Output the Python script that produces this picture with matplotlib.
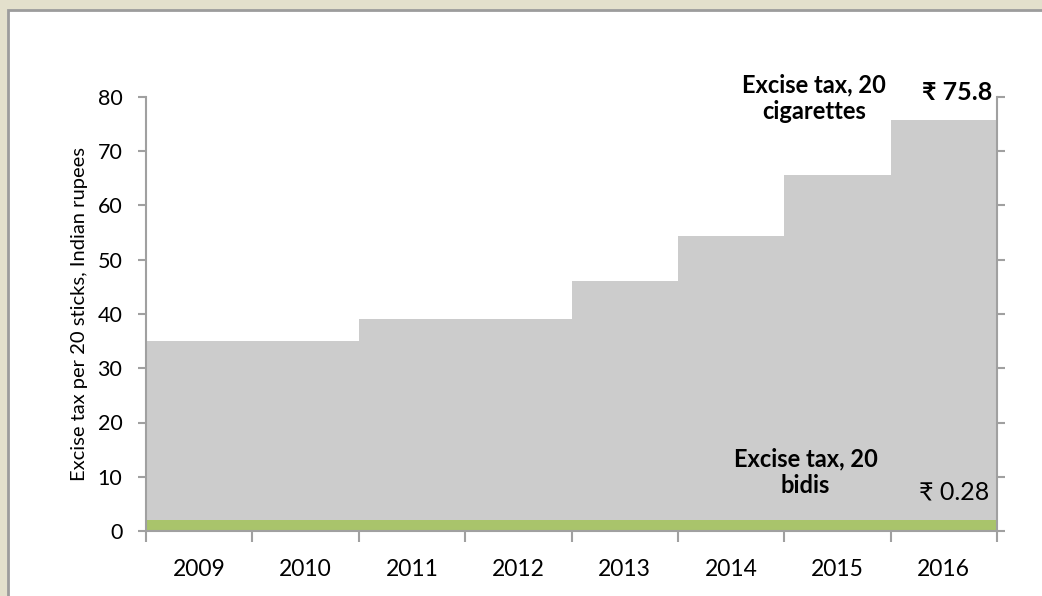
import matplotlib
matplotlib.use("Agg")
import matplotlib.pyplot as plt
from matplotlib.patches import Rectangle
import numpy as np

plt.rcParams['font.family'] = ['Lato', 'DejaVu Sans']

# data
years = ['2009', '2010', '2011', '2012', '2013', '2014', '2015', '2016']
cigarette_tax = [35.0, 35.0, 39.0, 39.0, 46.0, 54.4, 65.7, 75.8]
bidi_tax = [2.1, 2.1, 2.1, 2.1, 2.1, 2.1, 2.1, 2.1]
yticks = [0, 10, 20, 30, 40, 50, 60, 70, 80]

grey = '#CCCCCC'
green = '#A9C46B'
axis_col = '#A0A0A0'

fig = plt.figure(figsize=(10.42, 5.96), dpi=100)
fig.patch.set_facecolor('#E3E0CC')

# white inner panel, behind the axes
panel = Rectangle((8 / 1042, -0.1), 1.2, 1 - 10 / 596 + 0.1, transform=fig.transFigure,
                  facecolor='white', edgecolor='#9C9C9C', linewidth=2, zorder=-5)
fig.patches.append(panel)

ax = fig.add_axes([146 / 1042, 1 - 531 / 596, (997 - 146) / 1042, (531 - 97) / 596])
ax.set_facecolor('none')
ax.set_zorder(2)

edges = np.arange(len(years) + 1)
ax.fill_between(edges, cigarette_tax + [cigarette_tax[-1]], step='post', color=grey, linewidth=0)
ax.fill_between(edges, bidi_tax + [bidi_tax[-1]], step='post', color=green, linewidth=0)

ax.set_xlim(0, len(years))
ax.set_ylim(0, 80)
ax.set_yticks(yticks)
ax.set_yticklabels([str(v) for v in yticks], fontsize=15.5)

ax.set_xticks(edges)
ax.set_xticklabels([])
ax.set_xticks(edges[:-1] + 0.5, minor=True)
ax.set_xticklabels(years, minor=True, fontsize=16.5)
ax.tick_params(axis='x', which='major', direction='out', length=8, width=1.5, color=axis_col)
ax.tick_params(axis='x', which='minor', length=0, pad=20)
ax.tick_params(axis='y', direction='out', length=6, width=1.5, color=axis_col,
               left=True, right=True, labelright=False, pad=11)

for side in ['left', 'right', 'bottom']:
    ax.spines[side].set_color(axis_col)
    ax.spines[side].set_linewidth(1.5)
ax.spines['top'].set_visible(False)

ax.set_ylabel('Excise tax per 20 sticks, Indian rupees', fontsize=14.5, labelpad=7)

ax.text(6.28, 79.8, 'Excise tax, 20\ncigarettes', ha='center', va='center',
        fontsize=17, fontweight='bold', linespacing=1.2, clip_on=False)
ax.text(7.96, 80.9, '\u20b9 75.8', ha='right', va='center',
        fontsize=18, fontweight='bold', clip_on=False)
ax.text(6.2, 10.9, 'Excise tax, 20\nbidis', ha='center', va='center',
        fontsize=17, fontweight='bold', linespacing=1.2)
ax.text(7.93, 7.2, '\u20b9 0.28', ha='right', va='center', fontsize=18)

fig.savefig('out.png', dpi=100, facecolor=fig.get_facecolor())
